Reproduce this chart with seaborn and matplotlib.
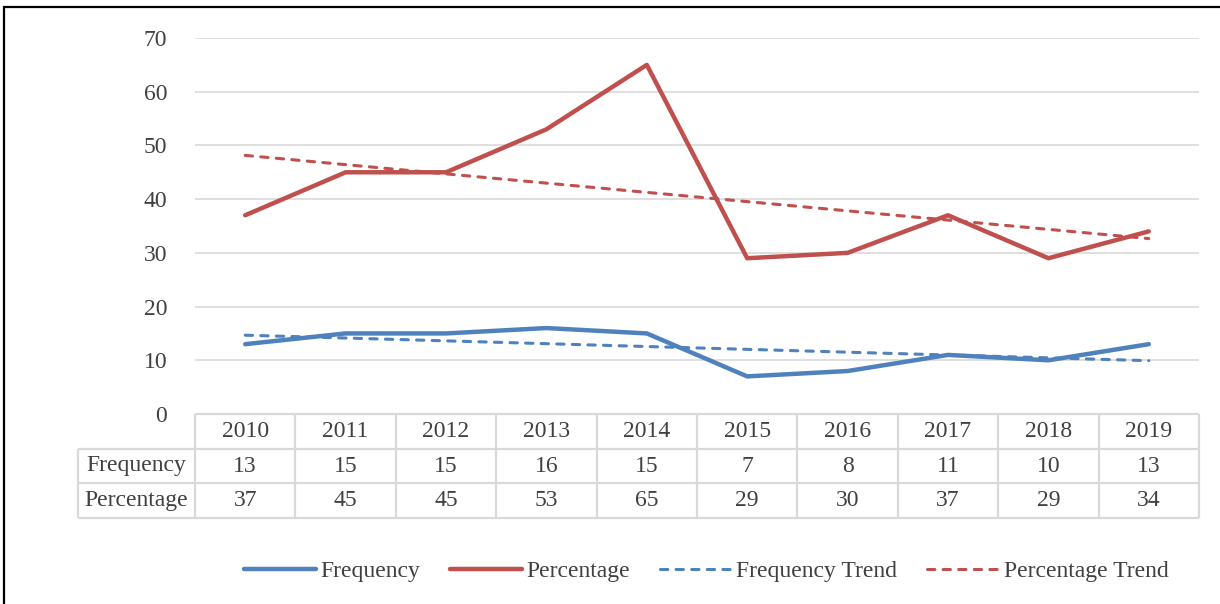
import numpy as np
import pandas as pd
import matplotlib
matplotlib.use("Agg")
import matplotlib.pyplot as plt
from matplotlib.patches import Rectangle
import seaborn as sns

years = ["2010", "2011", "2012", "2013", "2014", "2015", "2016", "2017", "2018", "2019"]
frequency = [13, 15, 15, 16, 15, 7, 8, 11, 10, 13]
percentage = [37, 45, 45, 53, 65, 29, 30, 37, 29, 34]
y_ticks = [0, 10, 20, 30, 40, 50, 60, 70]

BLUE = "#4F81BD"
RED = "#C0504D"
TEXT = "#404040"
GRID = "#D9D9D9"
FS = 17

sns.set_style("white")
plt.rcParams["font.family"] = ["Liberation Serif", "DejaVu Serif"]
plt.rcParams["font.size"] = FS

W, H = 1220, 604
fig = plt.figure(figsize=(W / 100, H / 100), dpi=100)

def fbox(x0, y0, x1, y1):
    """Figure-fraction box from pixel edges (top-left origin)."""
    return [x0 / W, 1 - y1 / H, (x1 - x0) / W, (y1 - y0) / H]

ax = fig.add_axes(fbox(195, 38, 1199, 414))

df = pd.DataFrame({"pos": np.arange(len(years)), "year": years,
                   "Frequency": frequency, "Percentage": percentage})

sns.lineplot(data=df, x="pos", y="Frequency", ax=ax, color=BLUE, lw=3.2,
             label="Frequency", solid_capstyle="round", zorder=2)
sns.lineplot(data=df, x="pos", y="Percentage", ax=ax, color=RED, lw=3.2,
             label="Percentage", solid_capstyle="round", zorder=2)
trend_kws = dict(lw=2.2, dashes=(2.4, 2.7), dash_capstyle="round", zorder=3)
sns.regplot(data=df, x="pos", y="Frequency", ax=ax, scatter=False, ci=None,
            truncate=True, label="Frequency Trend",
            line_kws=dict(color=BLUE, **trend_kws))
sns.regplot(data=df, x="pos", y="Percentage", ax=ax, scatter=False, ci=None,
            truncate=True, label="Percentage Trend",
            line_kws=dict(color=RED, **trend_kws))

ax.set_xlim(-0.5, len(years) - 0.5)
ax.set_ylim(0, 70)
ax.set_yticks(y_ticks)
ax.set_xticks([])
ax.set_xlabel("")
ax.set_ylabel("")
ax.yaxis.grid(True, color=GRID, lw=1.2)
ax.set_axisbelow(True)
for s in ax.spines.values():
    s.set_visible(False)
ax.tick_params(axis="y", length=0, pad=20, labelcolor=TEXT, labelsize=FS)
handles, labels = ax.get_legend_handles_labels()
if ax.get_legend():
    ax.get_legend().remove()

# Data table under the plot
tab = fig.add_axes(fbox(78, 414, 1199, 518))
unit = (1199 - 195) / len(years)
left = -0.5 - (195 - 78) / unit
tab.set_xlim(left, len(years) - 0.5)
tab.set_ylim(0, 3)
tab.axis("off")
lkw = dict(color=GRID, lw=1.6, clip_on=False, solid_capstyle="butt")
# horizontal rules
tab.plot([-0.5, len(years) - 0.5], [3, 3], **lkw)
for yv in (2, 1, 0):
    tab.plot([left, len(years) - 0.5], [yv, yv], **lkw)
# vertical rules
for i in range(len(years) + 1):
    tab.plot([i - 0.5, i - 0.5], [0, 3], **lkw)
tab.plot([left, left], [0, 2], **lkw)

for i, yr in enumerate(years):
    tab.text(i, 2.5, yr, ha="center", va="center", color=TEXT)
    tab.text(i, 1.5, str(frequency[i]), ha="center", va="center", color=TEXT)
    tab.text(i, 0.5, str(percentage[i]), ha="center", va="center", color=TEXT)
tab.text((left - 0.5) / 2, 1.5, "Frequency", ha="center", va="center", color=TEXT)
tab.text((left - 0.5) / 2, 0.5, "Percentage", ha="center", va="center", color=TEXT)

fig.legend(handles, labels, loc="center", bbox_to_anchor=(706 / W, 1 - 571 / H),
           ncol=4, frameon=False, handlelength=3.05, handletextpad=0.2,
           columnspacing=1.25, labelcolor=TEXT, fontsize=FS)

# outer frame
fig.patches.append(Rectangle((4 / W, -0.1), 1.2, 1 - 7 / H + 0.1, transform=fig.transFigure,
                             fill=False, edgecolor="black", lw=1.6))

fig.savefig("out.png", dpi=100, facecolor="white")
